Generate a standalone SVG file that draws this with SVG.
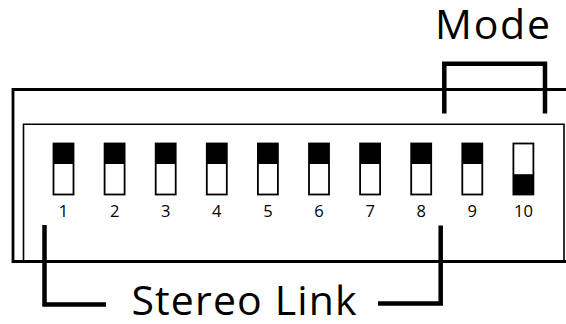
<svg xmlns="http://www.w3.org/2000/svg" width="566" height="324" viewBox="0 0 566 324">
<style>
.frame{fill:none;stroke:#000;}
.sw{fill:#fff;stroke:#000;stroke-width:1.8;}
.knob{fill:#000;}
.num{font-family:"Open Sans","Noto Sans",sans-serif;font-size:16.5px;text-anchor:middle;fill:#000;}
.lbl{font-family:"Open Sans","Noto Sans",sans-serif;font-size:41px;fill:#000;}
.br{fill:none;stroke:#000;stroke-width:4.5;stroke-linejoin:miter;}
</style>
<rect width="566" height="324" fill="#fff"/>
<g id="housing">
<path class="frame" stroke-width="2.8" d="M566,89.5 H13 V261.5 H566"/>
<path class="frame" stroke-width="1.6" d="M23.5,261 V124.3 H564 V261"/>
</g>
<g id="switch1"><rect class="sw" x="53.5" y="143.5" width="20" height="51"/><rect class="knob" x="53.5" y="143.5" width="20" height="20.5"/><text class="num" x="63.5" y="217">1</text></g>
<g id="switch2"><rect class="sw" x="104.6" y="143.5" width="20" height="51"/><rect class="knob" x="104.6" y="143.5" width="20" height="20.5"/><text class="num" x="114.6" y="217">2</text></g>
<g id="switch3"><rect class="sw" x="155.7" y="143.5" width="20" height="51"/><rect class="knob" x="155.7" y="143.5" width="20" height="20.5"/><text class="num" x="165.7" y="217">3</text></g>
<g id="switch4"><rect class="sw" x="206.8" y="143.5" width="20" height="51"/><rect class="knob" x="206.8" y="143.5" width="20" height="20.5"/><text class="num" x="216.8" y="217">4</text></g>
<g id="switch5"><rect class="sw" x="257.9" y="143.5" width="20" height="51"/><rect class="knob" x="257.9" y="143.5" width="20" height="20.5"/><text class="num" x="267.9" y="217">5</text></g>
<g id="switch6"><rect class="sw" x="309" y="143.5" width="20" height="51"/><rect class="knob" x="309" y="143.5" width="20" height="20.5"/><text class="num" x="319" y="217">6</text></g>
<g id="switch7"><rect class="sw" x="360.1" y="143.5" width="20" height="51"/><rect class="knob" x="360.1" y="143.5" width="20" height="20.5"/><text class="num" x="370.1" y="217">7</text></g>
<g id="switch8"><rect class="sw" x="411.2" y="143.5" width="20" height="51"/><rect class="knob" x="411.2" y="143.5" width="20" height="20.5"/><text class="num" x="421.2" y="217">8</text></g>
<g id="switch9"><rect class="sw" x="462.3" y="143.5" width="20" height="51"/><rect class="knob" x="462.3" y="143.5" width="20" height="20.5"/><text class="num" x="472.3" y="217">9</text></g>
<g id="switch10"><rect class="sw" x="513.4" y="143.5" width="20" height="51"/><rect class="knob" x="513.4" y="174.2" width="20" height="20.3"/><text class="num" x="523.4" y="217">10</text></g>
<g id="connectors">
<path class="br" d="M444.3,113.5 V63.7 H545 V113.5"/>
<path class="br" d="M44.5,225 V304.5 H106"/>
<path class="br" d="M378,303.5 H440.7 V225.5"/>
</g>
<g id="mode-label"><text class="lbl" x="435" y="39" textLength="115" lengthAdjust="spacing">Mode</text></g>
<g id="stereo-link-label"><text class="lbl" x="131.5" y="315" textLength="225" lengthAdjust="spacing">Stereo Link</text></g>
</svg>
